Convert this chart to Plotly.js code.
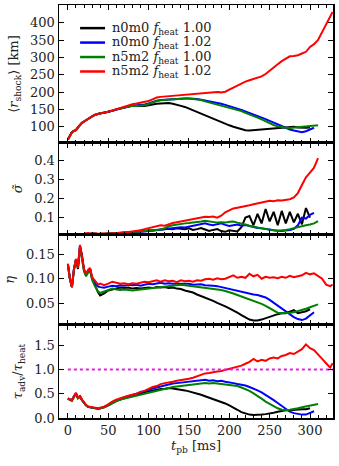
<!DOCTYPE html>
<html>
<head>
<meta charset="utf-8">
<script src="https://cdn.plot.ly/plotly-3.0.1.min.js"></script>
<style>
  html, body { margin: 0; padding: 0; background: #fff; }
  #chart { width: 339px; height: 466px; }
</style>
</head>
<body>
<div id="chart"></div>
<script>
// time after bounce (ms), shared by every series; each series uses a prefix
const tms = [0, 2.5, 5, 7.5, 10, 12.5, 15, 17.5, 20, 22.5, 25, 27.5, 30, 32.5, 35, 37.5, 40,
  45, 50, 55, 60, 65, 70, 75, 80, 85, 90, 95, 100, 105, 110, 115, 120, 125, 130, 135, 140,
  145, 150, 155, 160, 165, 170, 175, 180, 185, 190, 195, 200, 205, 210, 215, 220, 225, 230, 235, 240,
  245, 250, 255, 260, 265, 270, 275, 280, 285, 290, 295, 300, 305, 310, 315, 320, 325, 328];

const runNames = [
  "n0m0 <i>f</i><sub>heat</sub> 1.00",
  "n0m0 <i>f</i><sub>heat</sub> 1.02",
  "n5m2 <i>f</i><sub>heat</sub> 1.00",
  "n5m2 <i>f</i><sub>heat</sub> 1.02"
];

// <r_shock> [km]
const rShockA = [63, 75, 84, 88, 90, 98, 106, 111, 115, 119, 123, 127, 131, 133, 135, 137, 139,
  140, 142, 146, 150, 153, 156, 158, 160, 160, 159, 160, 162, 165, 166, 167, 168, 168, 166, 164, 160,
  157, 152, 148, 143, 138, 133, 128, 123, 118, 113, 108, 104, 100, 96, 93, 90, 89, 90, 91, 93,
  94, 96, 97, 97, 98, 99, 99, 100, 98, 97, 97, 98];
const rShockB = [63, 75, 84, 88, 90, 98, 106, 111, 115, 119, 123, 127, 131, 133, 135, 137, 139,
  141, 143, 146, 150, 154, 157, 159, 161, 162, 162, 164, 167, 172, 175, 177, 178, 179, 180, 181, 181,
  181, 181, 181, 180, 178, 176, 174, 172, 169, 166, 163, 160, 156, 152, 148, 144, 140, 136, 132, 128,
  122, 117, 112, 107, 101, 96, 92, 89, 86, 84, 87, 92, 97];
const rShockC = [63, 75, 84, 88, 90, 98, 106, 111, 115, 119, 123, 127, 131, 133, 135, 137, 139,
  140, 142, 146, 150, 153, 156, 158, 160, 160, 160, 162, 165, 170, 174, 176, 177, 179, 180, 180, 181,
  181, 181, 180, 179, 177, 173, 170, 167, 164, 161, 158, 155, 152, 149, 145, 140, 136, 131, 126, 121,
  115, 110, 105, 101, 98, 97, 96, 97, 98, 99, 99, 100, 102, 104];
const rShockD = [63, 75, 84, 88, 90, 98, 106, 111, 115, 119, 123, 127, 131, 133, 135, 137, 139,
  141, 143, 147, 151, 155, 158, 162, 165, 167, 169, 170, 174, 179, 184, 186, 187, 189, 190, 191, 193,
  194, 194, 195, 196, 196, 198, 199, 200, 200, 199, 201, 207, 213, 220, 226, 230, 234, 238, 242, 245,
  252, 262, 271, 280, 289, 297, 303, 304, 306, 311, 316, 330, 338, 350, 372, 398, 420, 431];

// sigma-tilde (starts at 20 ms)
const sigmaA = [null, null, null, null, null, null, null, null,
  0.015, 0.016, 0.014, 0.016, 0.015, 0.017, 0.015, 0.016, 0.015,
  0.015, 0.016, 0.016, 0.018, 0.019, 0.02, 0.022, 0.024, 0.028, 0.032, 0.03, 0.034, 0.033, 0.036, 0.038, 0.04, 0.042, 0.04, 0.044, 0.042,
  0.04, 0.044, 0.036, 0.04, 0.046, 0.038, 0.03, 0.036, 0.04, 0.03, 0.026, 0.034, 0.03, 0.028, 0.05, 0.1, 0.108, 0.06, 0.12, 0.07,
  0.145, 0.08, 0.13, 0.06, 0.135, 0.07, 0.13, 0.075, 0.12, 0.065, 0.15, 0.1];
const sigmaB = [null, null, null, null, null, null, null, null,
  0.014, 0.015, 0.016, 0.014, 0.015, 0.016, 0.015, 0.014, 0.015,
  0.015, 0.016, 0.016, 0.017, 0.018, 0.019, 0.02, 0.022, 0.024, 0.026, 0.028, 0.03, 0.032, 0.035, 0.037, 0.04, 0.042, 0.044, 0.047, 0.05,
  0.048, 0.052, 0.058, 0.062, 0.065, 0.07, 0.064, 0.06, 0.066, 0.07, 0.062, 0.056, 0.06, 0.064, 0.058, 0.062, 0.056, 0.05, 0.046, 0.044,
  0.04, 0.036, 0.034, 0.032, 0.03, 0.033, 0.035, 0.042, 0.06, 0.1, 0.095, 0.115, 0.125];
const sigmaC = [null, null, null, null, null, null, null, null,
  0.016, 0.015, 0.017, 0.015, 0.016, 0.017, 0.016, 0.015, 0.016,
  0.016, 0.017, 0.018, 0.019, 0.02, 0.021, 0.022, 0.024, 0.026, 0.028, 0.03, 0.032, 0.034, 0.036, 0.038, 0.045, 0.055, 0.06, 0.064, 0.068,
  0.07, 0.072, 0.074, 0.076, 0.08, 0.084, 0.08, 0.078, 0.074, 0.076, 0.074, 0.078, 0.08, 0.074, 0.07, 0.064, 0.058, 0.052, 0.048, 0.044,
  0.04, 0.037, 0.034, 0.032, 0.033, 0.036, 0.04, 0.046, 0.052, 0.057, 0.06, 0.064, 0.07, 0.082];
const sigmaD = [null, null, null, null, null, null, null, null,
  0.02, 0.016, 0.021, 0.015, 0.02, 0.016, 0.018, 0.015, 0.017,
  0.016, 0.018, 0.017, 0.019, 0.02, 0.022, 0.025, 0.028, 0.03, 0.034, 0.04, 0.045, 0.05, 0.055, 0.06, 0.058, 0.066, 0.072, 0.076, 0.08,
  0.082, 0.086, 0.092, 0.097, 0.1, 0.104, 0.103, 0.106, 0.1, 0.11, 0.128, 0.14, 0.148, 0.152, 0.155, 0.16, 0.165, 0.17, 0.174, 0.178,
  0.185, 0.188, 0.186, 0.19, 0.189, 0.192, 0.196, 0.205, 0.228, 0.27, 0.31, 0.335, 0.36, 0.41];

// eta
const etaA = [0.13, 0.1, 0.083, 0.118, 0.138, 0.12, 0.165, 0.148, 0.118, 0.108, 0.115, 0.12, 0.1, 0.09, 0.08, 0.072, 0.066,
  0.07, 0.076, 0.078, 0.081, 0.082, 0.081, 0.082, 0.08, 0.081, 0.08, 0.081, 0.082, 0.081, 0.083, 0.082, 0.083, 0.081, 0.082, 0.08, 0.079,
  0.076, 0.074, 0.072, 0.068, 0.065, 0.062, 0.058, 0.055, 0.051, 0.048, 0.044, 0.04, 0.036, 0.031, 0.026, 0.021, 0.017, 0.015, 0.015, 0.017,
  0.02, 0.023, 0.026, 0.028, 0.03, 0.03, 0.033, 0.036, 0.03, 0.032, 0.034, 0.038];
const etaB = [0.13, 0.1, 0.083, 0.12, 0.14, 0.124, 0.168, 0.145, 0.118, 0.108, 0.116, 0.12, 0.102, 0.094, 0.088, 0.084, 0.083,
  0.082, 0.084, 0.086, 0.085, 0.087, 0.086, 0.088, 0.087, 0.088, 0.086, 0.088, 0.09, 0.089, 0.09, 0.092, 0.09, 0.091, 0.09, 0.09, 0.089,
  0.09, 0.09, 0.088, 0.088, 0.089, 0.087, 0.087, 0.086, 0.085, 0.083, 0.081, 0.079, 0.077, 0.075, 0.074, 0.072, 0.07, 0.068, 0.067, 0.065,
  0.062, 0.057, 0.051, 0.046, 0.04, 0.033, 0.027, 0.022, 0.018, 0.016, 0.019, 0.026, 0.032];
const etaC = [0.13, 0.1, 0.083, 0.118, 0.138, 0.122, 0.164, 0.142, 0.115, 0.105, 0.112, 0.116, 0.098, 0.088, 0.08, 0.074, 0.071,
  0.074, 0.078, 0.08, 0.078, 0.077, 0.078, 0.077, 0.076, 0.077, 0.078, 0.08, 0.081, 0.082, 0.083, 0.084, 0.085, 0.086, 0.086, 0.087, 0.088,
  0.087, 0.086, 0.084, 0.083, 0.083, 0.082, 0.081, 0.08, 0.079, 0.077, 0.075, 0.073, 0.07, 0.067, 0.064, 0.061, 0.058, 0.056, 0.053, 0.049,
  0.045, 0.04, 0.035, 0.031, 0.03, 0.03, 0.031, 0.032, 0.034, 0.036, 0.039, 0.042, 0.045, 0.048];
const etaD = [0.131, 0.1, 0.083, 0.12, 0.14, 0.124, 0.169, 0.145, 0.12, 0.11, 0.118, 0.122, 0.104, 0.098, 0.093, 0.088, 0.09,
  0.087, 0.09, 0.094, 0.092, 0.09, 0.091, 0.089, 0.091, 0.09, 0.092, 0.094, 0.093, 0.095, 0.097, 0.094, 0.097, 0.095, 0.096, 0.093, 0.097,
  0.095, 0.096, 0.094, 0.097, 0.096, 0.099, 0.1, 0.098, 0.101, 0.099, 0.1, 0.103, 0.107, 0.102, 0.104, 0.102, 0.11, 0.105, 0.108, 0.1,
  0.104, 0.102, 0.103, 0.101, 0.104, 0.102, 0.106, 0.103, 0.105, 0.107, 0.112, 0.109, 0.111, 0.105, 0.1, 0.088, 0.085, 0.088];

// tau_adv / tau_heat
const tauA = [0.4, 0.38, 0.36, 0.44, 0.5, 0.41, 0.44, 0.37, 0.31, 0.26, 0.23, 0.22, 0.21, 0.2, 0.19, 0.19, 0.2,
  0.22, 0.26, 0.31, 0.35, 0.38, 0.41, 0.44, 0.46, 0.48, 0.51, 0.53, 0.55, 0.57, 0.58, 0.6, 0.6, 0.62, 0.61, 0.6, 0.59,
  0.57, 0.55, 0.53, 0.5, 0.48, 0.45, 0.42, 0.4, 0.37, 0.34, 0.3, 0.26, 0.22, 0.17, 0.12, 0.09, 0.07, 0.06, 0.06, 0.07,
  0.08, 0.09, 0.11, 0.13, 0.15, 0.16, 0.16, 0.17, 0.17, 0.18, 0.18, 0.2];
const tauB = [0.4, 0.38, 0.37, 0.45, 0.51, 0.42, 0.45, 0.37, 0.31, 0.26, 0.23, 0.22, 0.21, 0.2, 0.2, 0.19, 0.2,
  0.23, 0.27, 0.33, 0.37, 0.4, 0.43, 0.45, 0.47, 0.5, 0.53, 0.55, 0.58, 0.61, 0.63, 0.66, 0.68, 0.7, 0.71, 0.72, 0.73,
  0.74, 0.75, 0.76, 0.77, 0.78, 0.79, 0.77, 0.78, 0.76, 0.77, 0.75, 0.74, 0.72, 0.7, 0.69, 0.67, 0.64, 0.61, 0.57, 0.53,
  0.48, 0.43, 0.37, 0.31, 0.25, 0.18, 0.13, 0.1, 0.08, 0.07, 0.07, 0.1, 0.14];
const tauC = [0.4, 0.37, 0.36, 0.44, 0.5, 0.41, 0.44, 0.37, 0.31, 0.26, 0.23, 0.22, 0.21, 0.2, 0.19, 0.19, 0.2,
  0.22, 0.26, 0.31, 0.35, 0.38, 0.4, 0.42, 0.44, 0.46, 0.48, 0.5, 0.53, 0.55, 0.56, 0.58, 0.6, 0.62, 0.64, 0.65, 0.66,
  0.67, 0.68, 0.69, 0.7, 0.71, 0.72, 0.71, 0.72, 0.71, 0.7, 0.7, 0.69, 0.68, 0.66, 0.63, 0.6, 0.56, 0.51, 0.46, 0.4,
  0.34, 0.29, 0.24, 0.2, 0.17, 0.16, 0.17, 0.18, 0.2, 0.22, 0.24, 0.25, 0.27, 0.29];
const tauD = [0.41, 0.38, 0.37, 0.45, 0.52, 0.42, 0.45, 0.38, 0.32, 0.27, 0.24, 0.23, 0.22, 0.21, 0.2, 0.2, 0.21,
  0.23, 0.28, 0.34, 0.38, 0.41, 0.44, 0.46, 0.48, 0.5, 0.54, 0.56, 0.6, 0.64, 0.66, 0.7, 0.72, 0.73, 0.75, 0.77, 0.78,
  0.8, 0.81, 0.83, 0.86, 0.88, 0.92, 0.93, 0.95, 0.96, 0.97, 0.99, 1.02, 1.03, 1.05, 1.08, 1.12, 1.16, 1.22, 1.17, 1.2,
  1.18, 1.23, 1.25, 1.23, 1.28, 1.3, 1.34, 1.32, 1.37, 1.42, 1.52, 1.44, 1.4, 1.3, 1.22, 1.13, 1.04, 1.13];

const unityX = [0, 330];
const unityY = [1, 1];

const lineColors = ["#000000", "#0000ff", "#008000", "#ff0000"];
const serif = "DejaVu Serif";
const inkColor = "#222";

const panels = [
  [rShockA, rShockB, rShockC, rShockD],
  [sigmaA, sigmaB, sigmaC, sigmaD],
  [etaA, etaB, etaC, etaD],
  [tauA, tauB, tauC, tauD]
];

const traces = [];
panels.forEach((series, p) => {
  series.forEach((vals, i) => {
    traces.push({
      name: runNames[i],
      x: tms.slice(0, vals.length),
      y: vals,
      type: "scatter",
      mode: "lines",
      line: { color: lineColors[i], width: 2 },
      xaxis: "x" + (p + 1),
      yaxis: "y" + (p + 1),
      showlegend: false,
      hoverinfo: "skip"
    });
  });
});

traces.push({
  x: unityX,
  y: unityY,
  type: "scatter",
  mode: "lines",
  line: { color: "#dd22dd", width: 2, dash: "dot" },
  xaxis: "x4",
  yaxis: "y4",
  showlegend: false
});

// legend drawn by hand: plotly's own legend rows are too tall for this panel
const legendRows = [0.944, 0.909, 0.874, 0.839];
const legendShapes = [];
const legendNotes = [];
runNames.forEach((name, i) => {
  legendShapes.push({
    type: "line", xref: "paper", yref: "paper",
    x0: 0.077, x1: 0.168, y0: legendRows[i], y1: legendRows[i],
    line: { color: lineColors[i], width: 2.5 }
  });
  legendNotes.push({
    text: name, xref: "paper", yref: "paper",
    x: 0.186, y: legendRows[i], xanchor: "left", yanchor: "middle",
    showarrow: false,
    font: { family: serif, size: 13, color: inkColor }
  });
});

function xAxis(showLabels) {
  return {
    range: [-11, 328.5],
    showline: true,
    linecolor: "#000",
    linewidth: 1.5,
    mirror: "allticks",
    ticks: "inside",
    ticklen: 5,
    tickcolor: "#000",
    tick0: 0,
    dtick: 50,
    minor: { ticks: "inside", ticklen: 3, dtick: 10, tickcolor: "#000" },
    showgrid: false,
    zeroline: false,
    showticklabels: showLabels,
    tickfont: { family: serif, size: 13, color: inkColor }
  };
}

function yAxis(title, domain, range, dtick, fmt) {
  return {
    title: { text: title, font: { family: serif, size: 13, color: inkColor }, standoff: 8 },
    domain: domain,
    range: range,
    showline: true,
    linecolor: "#000",
    linewidth: 1.5,
    mirror: "allticks",
    ticks: "inside",
    ticklen: 5,
    tickcolor: "#000",
    tick0: 0,
    dtick: dtick,
    tickformat: fmt,
    showgrid: false,
    zeroline: false,
    tickfont: { family: serif, size: 13, color: inkColor }
  };
}

const x1 = xAxis(false); x1.anchor = "y1"; x1.matches = "x4";
const x2 = xAxis(false); x2.anchor = "y2"; x2.matches = "x4";
const x3 = xAxis(false); x3.anchor = "y3"; x3.matches = "x4";
const x4 = xAxis(true); x4.anchor = "y4";
x4.title = { text: "<i>t</i><sub>pb</sub> [ms]", font: { family: serif, size: 13, color: inkColor }, standoff: 4 };

const layout = {
  width: 339,
  height: 466,
  margin: { l: 59, r: 6, t: 5, b: 48 },
  paper_bgcolor: "#fff",
  plot_bgcolor: "#fff",
  font: { family: serif, size: 13, color: inkColor },
  xaxis: x1,
  xaxis2: x2,
  xaxis3: x3,
  xaxis4: x4,
  yaxis: yAxis("⟨<i>r</i><sub>shock</sub>⟩ [km]", [0.6659, 1], [53, 451], 50, "d"),
  yaxis2: yAxis("<i>σ̃</i>", [0.4443, 0.6659], [0.012, 0.489], 0.1, ".1f"),
  yaxis3: yAxis("<i>η</i>", [0.2252, 0.4443], [0.006, 0.19], 0.05, ".2f"),
  yaxis4: yAxis("<i>τ</i><sub>adv</sub>/<i>τ</i><sub>heat</sub>", [0, 0.2252], [0, 1.92], 0.5, ".1f"),
  showlegend: false,
  shapes: legendShapes,
  annotations: legendNotes
};

Plotly.newPlot("chart", traces, layout, { displayModeBar: false, staticPlot: true });
</script>
</body>
</html>
